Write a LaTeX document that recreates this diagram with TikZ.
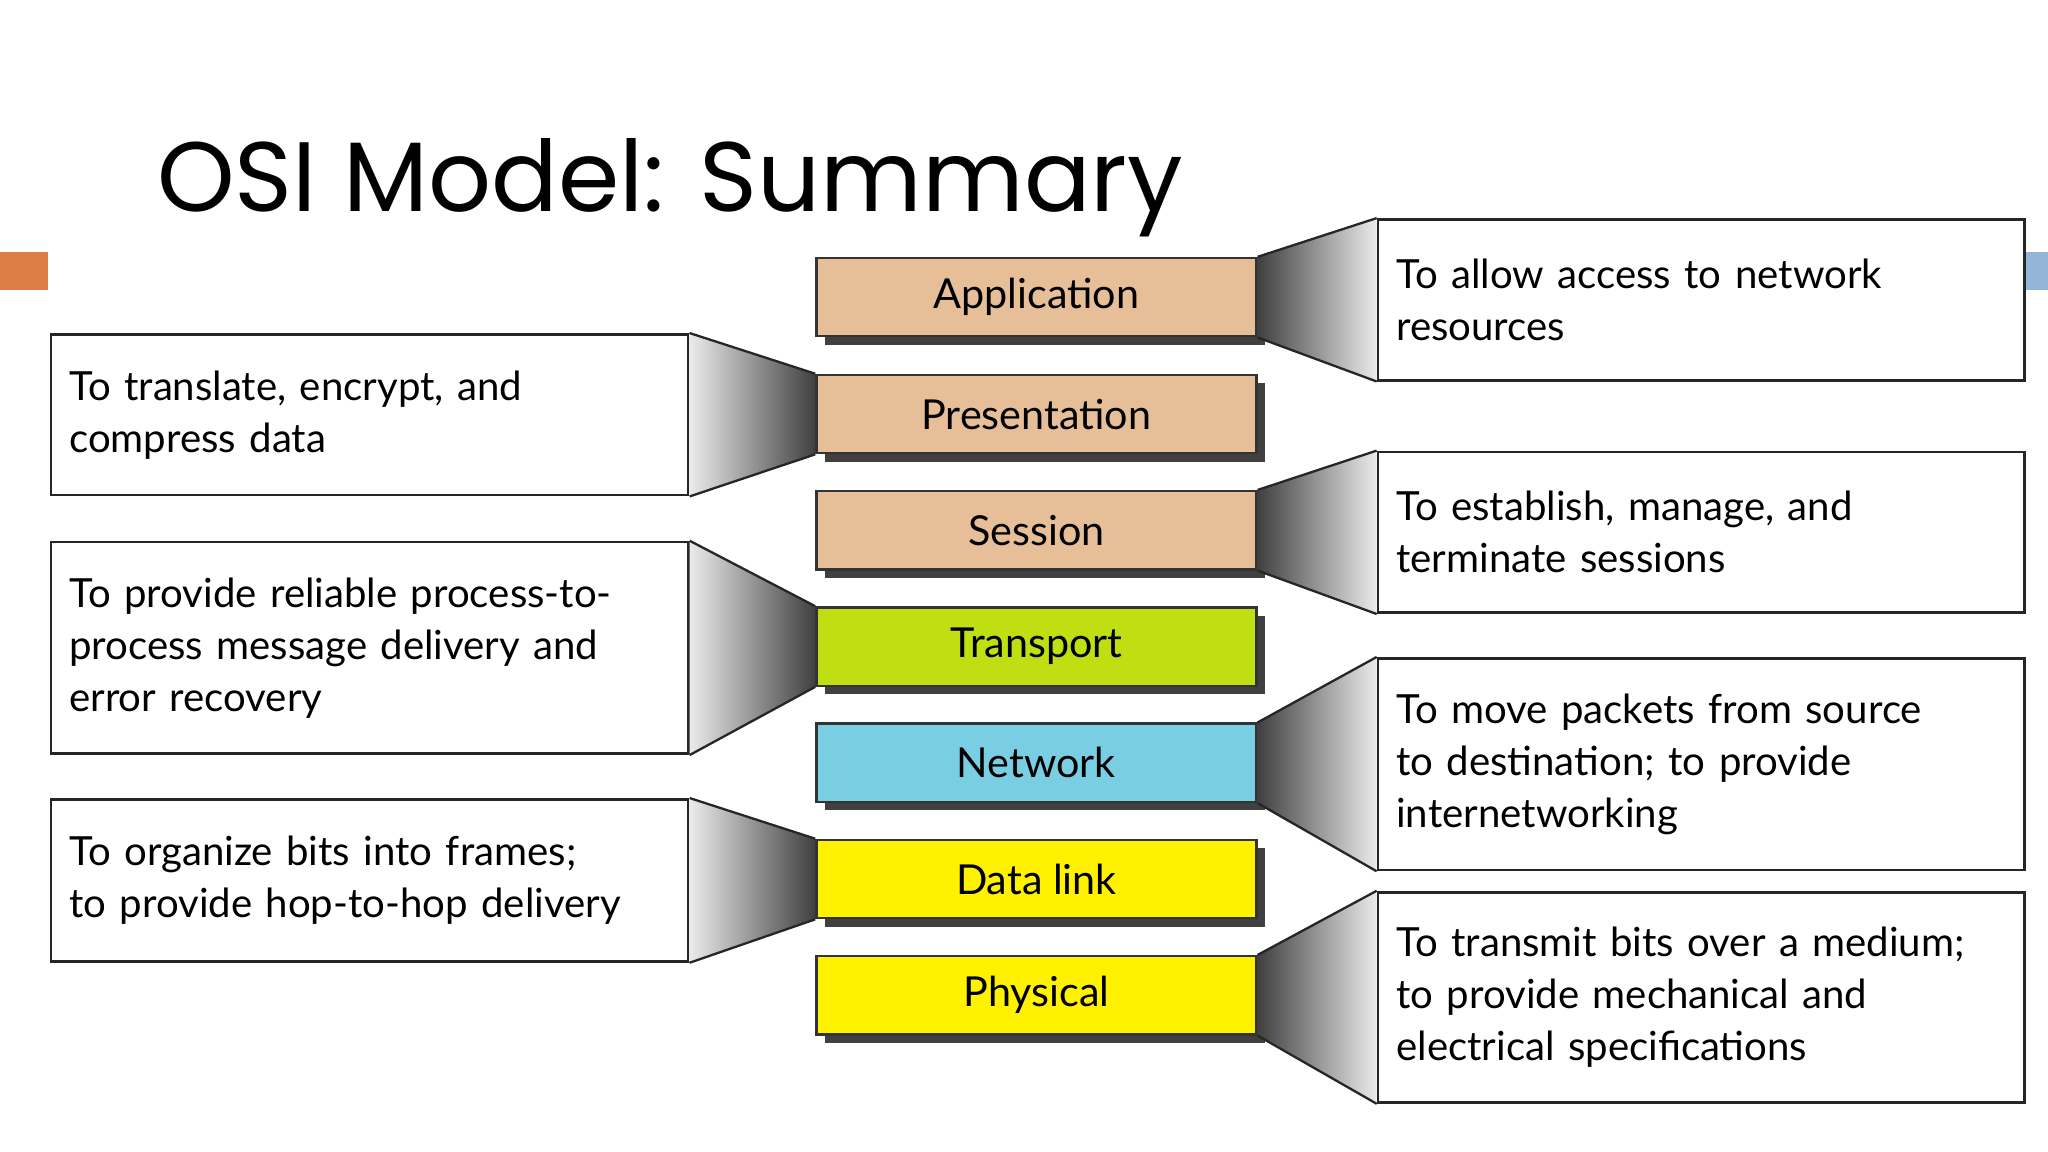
\documentclass[tikz,border=0pt]{standalone}
\usepackage{fontspec}
\setmainfont{Lato}
\newfontfamily\titlefont{Poppins}
\usetikzlibrary{shadows}
\definecolor{tan}{HTML}{E6BF98}
\definecolor{lime}{HTML}{BFDF12}
\definecolor{sky}{HTML}{7ACEE3}
\definecolor{yel}{HTML}{FFF200}
\definecolor{accA}{HTML}{DC7D45}
\definecolor{accB}{HTML}{93B6D8}
\begin{document}
\begin{tikzpicture}[x=0.02cm,y=-0.02cm,
 layer/.style={draw=black!80,line width=1pt,minimum width=6.74cm,minimum height=1.2cm,inner sep=0pt,
   font=\fontsize{18}{22}\selectfont,
   drop shadow={shadow xshift=0.13cm,shadow yshift=-0.13cm,fill=black!75,opacity=1}},
 lbox/.style={draw=black!85,line width=1.2pt,anchor=north west,minimum width=9.76cm,text width=9.2cm,
   inner xsep=0.28cm,inner ysep=0pt,align=left,font=\fontsize{17.5}{22.7}\selectfont},
 rbox/.style={lbox,minimum width=9.9cm,text width=9.34cm},
 fun/.style={draw=black!85,line width=1pt}]
\useasboundingbox (0,0) rectangle (1568,882);
\fill[white] (0,0) rectangle (1568,882);
\fill[accA] (0,193) rectangle (37,222);
\fill[accB] (1549,193) rectangle (1568,222);
\node[anchor=base west,inner sep=0pt,font=\titlefont\fontsize{43}{46}\selectfont] (title) at (120,162) {OSI Model: Summary};

\node[layer,fill=tan] (app) at (793.5,227.5) {Application};
\node[layer,fill=tan] (pre) at (793.5,317) {Presentation};
\node[layer,fill=tan] (ses) at (793.5,406) {Session};
\node[layer,fill=lime] (tra) at (793.5,495) {Transport};
\node[layer,fill=sky] (net) at (793.5,584) {Network};
\node[layer,fill=yel] (dat) at (793.5,673) {Data link};
\node[layer,fill=yel] (phy) at (793.5,762) {Physical};

\node[lbox,minimum height=2.46cm] (l1) at (38,255) {To translate, encrypt, and\\compress data};
\node[lbox,minimum height=3.24cm] (l2) at (38,414) {To provide reliable process-to-\\process message delivery and\\error recovery};
\node[lbox,minimum height=2.48cm] (l3) at (38,611) {To organize bits into frames;\\to provide hop-to-hop delivery};
\node[rbox,minimum height=2.46cm] (r1) at (1054,167) {To allow access to network\\resources};
\node[rbox,minimum height=2.46cm] (r2) at (1054,345) {To establish, manage, and\\terminate sessions};
\node[rbox,minimum height=3.24cm] (r3) at (1054,503) {To move packets from source\\to destination; to provide\\internetworking};
\node[rbox,minimum height=3.22cm] (r4) at (1054,682) {To transmit bits over a medium;\\to provide mechanical and\\electrical specifications};

\foreach \b/\l in {l1/pre,l2/tra,l3/dat}{
 \shade[left color=black!8,right color=black!75] (\b.north east)--(\l.north west)--(\l.south west)--(\b.south east)--cycle;
 \draw[fun] (\b.north east)--(\l.north west) (\l.south west)--(\b.south east);
}
\foreach \b/\l in {r1/app,r2/ses,r3/net,r4/phy}{
 \shade[right color=black!8,left color=black!75] (\l.north east)--(\b.north west)--(\b.south west)--(\l.south east)--cycle;
 \draw[fun] (\l.north east)--(\b.north west) (\b.south west)--(\l.south east);
}
\end{tikzpicture}
\end{document}
